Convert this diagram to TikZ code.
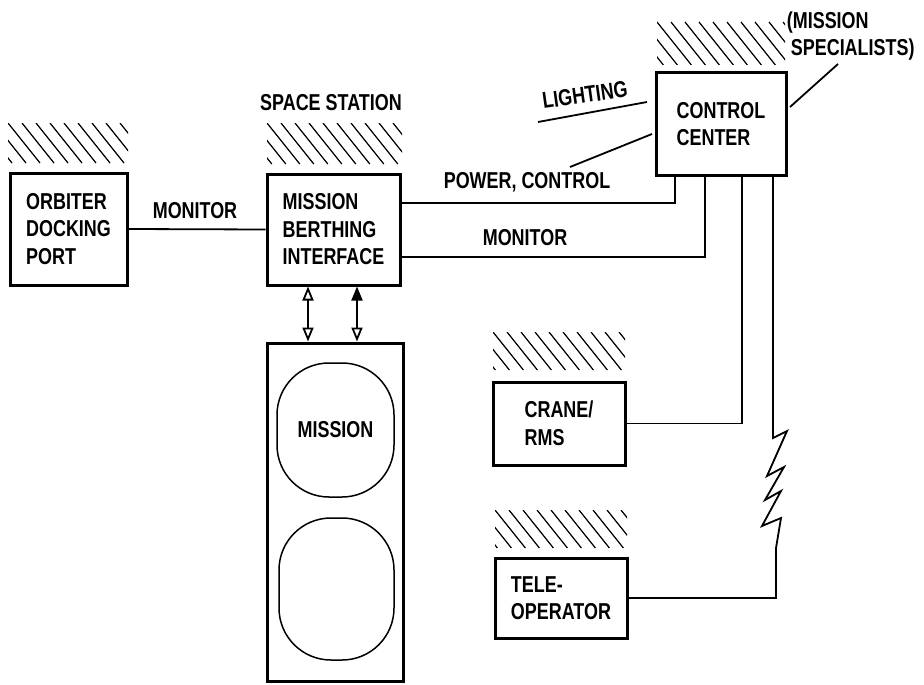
\documentclass[tikz,border=0pt]{standalone}
\usepackage{fontspec}
\setmainfont{Liberation Sans}[FakeStretch=0.78]
\usetikzlibrary{arrows.meta}
\newcommand\dfont{\fontsize{23}{27.5}\selectfont\bfseries}
\newcommand\hatcharea[4]{%
  \begin{scope}
    \clip (#1,#2) rectangle (#3,#4);
    \foreach \k in {-3,...,10}{\draw[hatchline] ({#1+\k*14},#2) -- ++({0.8*(#4-#2)},{#4-#2});}
  \end{scope}}
\begin{document}
\begin{tikzpicture}[x=1pt,y=-1pt,line width=1.8pt,
  box/.style={draw,line width=3pt,align=left,inner sep=0pt,font=\dfont},
  lbl/.style={font=\dfont,inner sep=0pt,align=left},
  pod/.style={draw,line width=1.5pt,rounded corners=52pt,inner sep=0pt,font=\dfont},
  hatchline/.style={line width=1.2pt},
  opentip/.style={{Triangle[open,length=14pt,width=11pt]}-{Triangle[open,length=14pt,width=11pt]}},
  mixtip/.style={{Triangle[length=14pt,width=11pt]}-{Triangle[open,length=14pt,width=11pt]}}]
\useasboundingbox (0,0) rectangle (924,685);

% hatching (fixed structure)
\hatcharea{8}{123}{128}{163}
\hatcharea{267}{123}{402}{164}
\hatcharea{657}{22}{785}{65}
\hatcharea{493}{332}{625}{370}
\hatcharea{495}{510}{627}{548}

% boxes
\node[box,minimum width=117pt,minimum height=112pt] (orb) at (68.5,229) {ORBITER\\DOCKING\\PORT};
\node[box,minimum width=133pt,minimum height=111pt] (mbi) at (333.5,229.5) {MISSION\\BERTHING\\INTERFACE};
\node[box,minimum width=130pt,minimum height=102pt] (cc) at (721,124) {CONTROL\\CENTER};
\node[box,minimum width=132pt,minimum height=83pt] (crane) at (559,423.5) {CRANE/\\RMS};
\node[box,minimum width=132pt,minimum height=80pt] (tele) at (561,598) {TELE-\\OPERATOR};
\node[box,minimum width=136pt,minimum height=338pt] (mis) at (335,512) {};
\node[pod,minimum width=117pt,minimum height=134pt] (pod1) at (335.5,430) {MISSION};
\node[pod,minimum width=115pt,minimum height=142pt] (pod2) at (336.5,589) {};

% labels
\node[lbl] (ss) at (331,103) {SPACE STATION};
\node[lbl] (mon1) at (195,211) {MONITOR};
\node[lbl] (mon2) at (525,238) {MONITOR};
\node[lbl] (pc) at (527,182) {POWER, CONTROL};
\node[lbl,rotate=8] (light) at (585,95) {LIGHTING};
\node[lbl,anchor=west] (ms) at (786,36) {(MISSION\\\hspace{4pt}SPECIALISTS)};

% leaders
\coordinate (lt1) at (538,122);
\coordinate (lt2) at (647,102);
\coordinate (pc1) at (570,167);
\coordinate (pc2) at (652,134);
\coordinate (ms1) at (838,64);
\coordinate (ms2) at (790,107);
\draw (lt1) -- (lt2);
\draw (pc1) -- (pc2);
\draw (ms1) -- (ms2);

% connectors
\draw (orb.east) -- (mbi.west);
\draw ([xshift=-46pt]cc.south) |- ([yshift=26.5pt]mbi.east);
\draw ([xshift=-16pt]cc.south) |- ([yshift=-27.5pt]mbi.east);
\draw ([xshift=21pt]cc.south) |- (crane.east);
\draw ([xshift=52pt]cc.south) -- (773,438) -- (787,431) -- (767,476) -- (784,467)
  -- (765,500) -- (781,491) -- (762,526) -- (781,518) -- (776,548) |- (tele.east);

\coordinate (ax1) at (308,0);
\coordinate (ax2) at (357,0);
\draw[opentip] (mbi.south -| ax1) -- (mis.north -| ax1);
\draw[mixtip] (mbi.south -| ax2) -- (mis.north -| ax2);
\end{tikzpicture}
\end{document}
